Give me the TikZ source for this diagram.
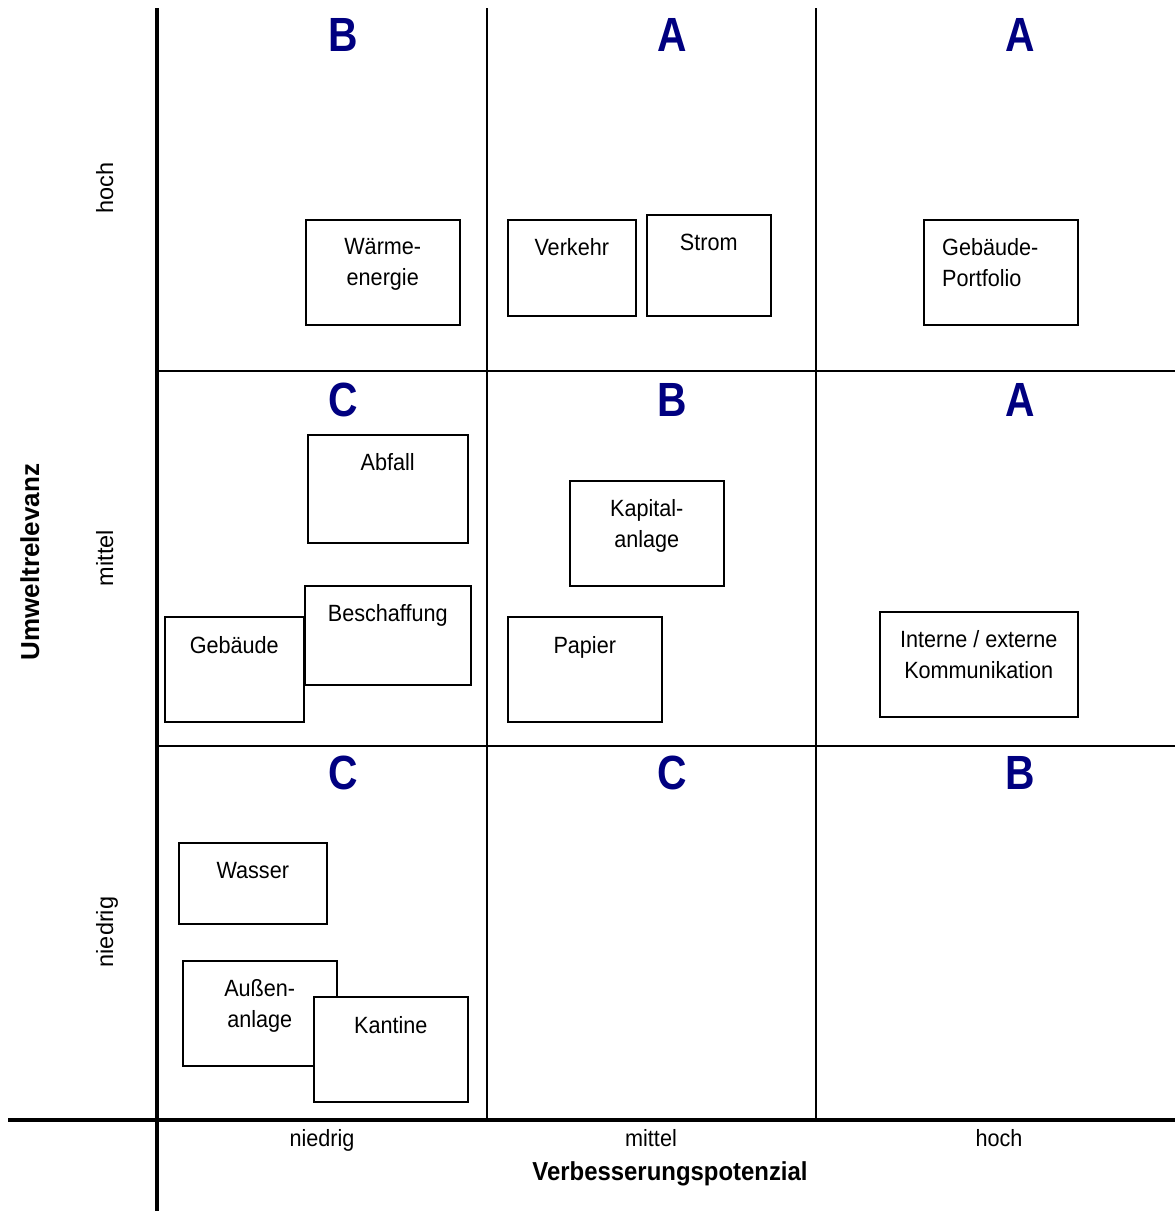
\documentclass[tikz,border=0pt]{standalone}
\usepackage{fontspec}
\setmainfont{Liberation Sans}
\newfontfamily\narrowsf[FakeStretch=0.92]{Liberation Sans}
\newfontfamily\gradesf[FakeStretch=0.85]{Liberation Sans}
\usepackage{xcolor}
\usepackage{tikz}
\usetikzlibrary{positioning}
\definecolor{gradeblue}{RGB}{0,0,128}
\tikzset{
  mx box/.style={rectangle, draw, fill=white, line width=1.5pt, anchor=north west, inner sep=0pt},
  mx text/.style={inner sep=0pt, align=center, anchor=north, font=\narrowsf\fontsize{23.5}{31}\selectfont},
  mx grade/.style={inner sep=0pt, text=gradeblue, font=\gradesf\bfseries\fontsize{48}{48}\selectfont},
  mx axis/.style={inner sep=0pt, anchor=base, font=\fontsize{23.5}{28}\selectfont},
  mx xaxis/.style={inner sep=0pt, anchor=base, font=\narrowsf\fontsize{23.5}{28}\selectfont},
  mx title/.style={inner sep=0pt, anchor=base, font=\bfseries\fontsize{26}{30}\selectfont}
}
\begin{document}
\begin{tikzpicture}[x=1pt, y=-1pt]
    \useasboundingbox (0,0) rectangle (1175,1211);

    % Grid
    \draw [line width=2pt] (487,8) -- (487,1120);
    \draw [line width=2pt] (816,8) -- (816,1120);
    \draw [line width=2pt] (157,371) -- (1175,371);
    \draw [line width=2pt] (157,746) -- (1175,746);

    % Axes
    \draw [line width=4pt] (157,8) -- (157,1211);
    \draw [line width=4pt] (8,1120) -- (1175,1120);

    % Grades
    \node [mx grade] (g11) at (343,35) {B};
    \node [mx grade] (g12) at (672,35) {A};
    \node [mx grade] (g13) at (1020,35) {A};
    \node [mx grade] (g21) at (343,400) {C};
    \node [mx grade] (g22) at (672,400) {B};
    \node [mx grade] (g23) at (1020,400) {A};
    \node [mx grade] (g31) at (343,773) {C};
    \node [mx grade] (g32) at (672,773) {C};
    \node [mx grade] (g33) at (1020,773) {B};

    % Top row
    \node [mx box, minimum width=154pt, minimum height=105pt] (wae) at (305,219) {};
    \node [mx text, below=19pt of wae.north] (waeT) {Wärme-\\energie};
    \node [mx box, minimum width=128pt, minimum height=96pt] (ver) at (507,219) {};
    \node [mx text, below=19pt of ver.north] (verT) {Verkehr};
    \node [mx box, minimum width=124pt, minimum height=101pt] (str) at (646,214) {};
    \node [mx text, below=20pt of str.north] (strT) {Strom};
    \node [mx box, minimum width=154pt, minimum height=105pt] (gpf) at (923,219) {};
    \node [mx text, align=left, anchor=north west, below right=19pt and 19pt of gpf.north west] (gpfT) {Gebäude-\\Portfolio};

    % Middle row
    \node [mx box, minimum width=160pt, minimum height=108pt] (abf) at (307,434) {};
    \node [mx text, below=19pt of abf.north] (abfT) {Abfall};
    \node [mx box, minimum width=154pt, minimum height=105pt] (kap) at (569,480) {};
    \node [mx text, below=19pt of kap.north] (kapT) {Kapital-\\anlage};
    \node [mx box, minimum width=139pt, minimum height=105pt] (geb) at (164,616) {};
    \node [mx text, below=20pt of geb.north] (gebT) {Gebäude};
    \node [mx box, minimum width=166pt, minimum height=99pt] (bes) at (304,585) {};
    \node [mx text, below=19pt of bes.north] (besT) {Beschaffung};
    \node [mx box, minimum width=154pt, minimum height=105pt] (pap) at (507,616) {};
    \node [mx text, below=20pt of pap.north] (papT) {Papier};
    \node [mx box, minimum width=198pt, minimum height=105pt] (kom) at (879,611) {};
    \node [mx text, below=19pt of kom.north] (komT) {Interne / externe\\Kommunikation};

    % Bottom row
    \node [mx box, minimum width=148pt, minimum height=81pt] (was) at (178,842) {};
    \node [mx text, below=20pt of was.north] (wasT) {Wasser};
    \node [mx box, minimum width=154pt, minimum height=105pt] (aus) at (182,960) {};
    \node [mx text, below=19pt of aus.north] (ausT) {Außen-\\anlage};
    \node [mx box, minimum width=154pt, minimum height=105pt] (kan) at (313,996) {};
    \node [mx text, below=20pt of kan.north] (kanT) {Kantine};

    % Labels
    \node [mx axis, rotate=90] (yHoch) at (113,188) {hoch};
    \node [mx axis, rotate=90] (yMittel) at (113,558) {mittel};
    \node [mx axis, rotate=90] (yNiedrig) at (113,932) {niedrig};
    \node [mx title, rotate=90] (yTitle) at (39,562) {Umweltrelevanz};
    \node [mx xaxis] (xNiedrig) at (322,1146) {niedrig};
    \node [mx xaxis] (xMittel) at (651,1146) {mittel};
    \node [mx xaxis] (xHoch) at (999,1146) {hoch};
    \node [mx title, font=\narrowsf\bfseries\fontsize{26}{30}\selectfont] (xTitle) at (670,1180) {Verbesserungspotenzial};
\end{tikzpicture}
\end{document}
